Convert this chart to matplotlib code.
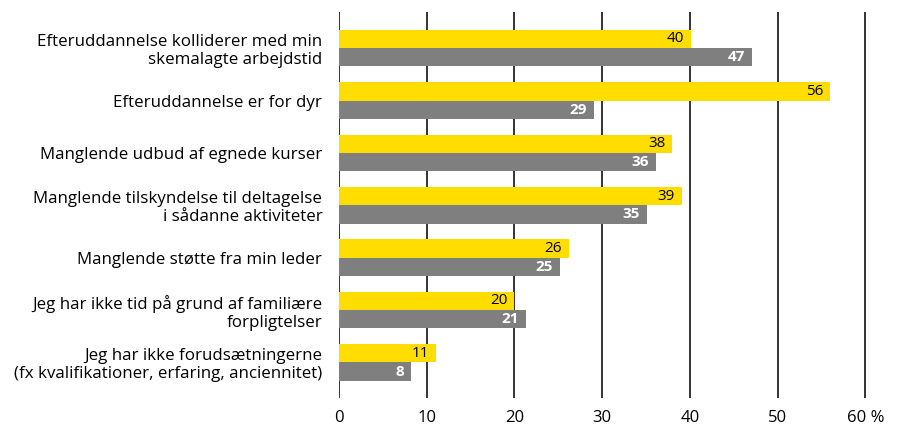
import matplotlib
matplotlib.use("Agg")
import matplotlib.pyplot as plt
import matplotlib.transforms as mtransforms
import numpy as np

categories = [
    "Efteruddannelse kolliderer med min\nskemalagte arbejdstid",
    "Efteruddannelse er for dyr",
    "Manglende udbud af egnede kurser",
    "Manglende tilskyndelse til deltagelse\ni sådanne aktiviteter",
    "Manglende støtte fra min leder",
    "Jeg har ikke tid på grund af familiære\nforpligtelser",
    "Jeg har ikke forudsætningerne\n(fx kvalifikationer, erfaring, anciennitet)",
]
yellow_vals = [40.1, 56.0, 38.0, 39.1, 26.2, 20.0, 11.1]
gray_vals = [47.1, 29.1, 36.1, 35.1, 25.2, 21.3, 8.2]
xticks = [0, 10, 20, 30, 40, 50, 60]
xticklabels = ["0", "10", "20", "30", "40", "50", "60 %"]

YELLOW = "#FFDD00"
GRAY = "#7F7F7F"
plt.rcParams["font.family"] = ["Open Sans", "DejaVu Sans"]

fig = plt.figure(figsize=(8.98, 4.29), dpi=100)
ax = fig.add_axes([0.3775, 0.0723, 0.588, 0.8997])

y = np.arange(len(categories))
h = 0.35
ax.barh(y - h / 2, yellow_vals, height=h, color=YELLOW, zorder=3)
ax.barh(y + h / 2, gray_vals, height=h, color=GRAY, zorder=3)

for i in range(len(categories)):
    ax.text(yellow_vals[i] - 0.8, y[i] - h / 2, "%d" % round(yellow_vals[i]),
            ha="right", va="center", fontsize=11, color="black", zorder=4)
    ax.text(gray_vals[i] - 0.8, y[i] + h / 2, "%d" % round(gray_vals[i]),
            ha="right", va="center", fontsize=11, color="white",
            fontweight="bold", zorder=4)

ax.set_xlim(0, 60.2)
ax.set_ylim(len(categories) - 1 + 0.68, -0.69)
ax.set_xticks(xticks)
ax.set_xticklabels(xticklabels, fontsize=12)
# shift the "60 %" label so that the number sits under its gridline
last = ax.get_xticklabels()[-1]
last.set_transform(last.get_transform() +
                   mtransforms.ScaledTranslation(9 / 72, 0, fig.dpi_scale_trans))
ax.set_yticks(y)
ax.set_yticklabels(categories, fontsize=12.2, linespacing=1.15)
ax.tick_params(axis="both", length=0)
ax.tick_params(axis="y", pad=12)
ax.tick_params(axis="x", pad=9)

for t in xticks:
    ax.axvline(t, color="#333333", lw=1.4, zorder=1)
for s in ax.spines.values():
    s.set_visible(False)

fig.savefig("out.png", dpi=100)
